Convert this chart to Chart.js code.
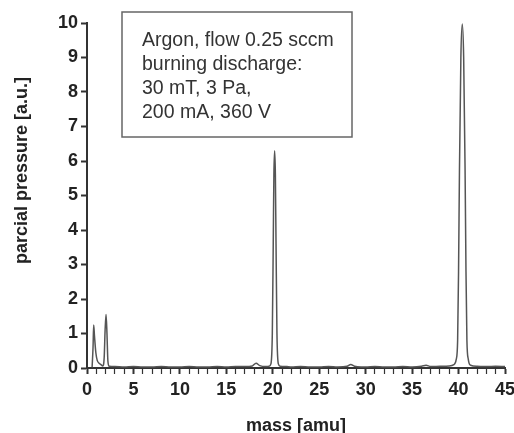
<!DOCTYPE html>
<html>
<head>
<meta charset="utf-8">
<script src="https://cdn.jsdelivr.net/npm/chart.js@4.4.0/dist/chart.umd.min.js"></script>
<style>
  html, body { margin: 0; padding: 0; background: #fff; }
  #wrap { width: 514px; height: 433px; }
</style>
</head>
<body>
<div id="wrap"><canvas id="mycanvas" width="514" height="433"></canvas></div>
<script>
// mass spectrum, argon discharge
var masses = [
  0.55, 0.65, 0.72, 0.8, 0.95, 1.1, 1.3, 1.5, 1.7, 1.85, 1.95, 2.05, 2.15, 2.25, 2.4,
  3, 4, 5, 6, 7, 8, 9, 10, 11, 12, 13, 14, 15, 16, 17,
  17.8, 18.2, 18.6, 19.2, 19.6, 19.8, 19.95, 20.05, 20.12, 20.2, 20.28, 20.35, 20.45, 20.6, 20.8,
  21.5, 22, 23, 24, 25, 26, 27, 28, 28.4, 28.8, 29.5, 30, 31, 32, 33, 34, 35, 36, 36.5, 37, 38, 39,
  39.5, 39.75, 39.9, 40.0, 40.1, 40.25, 40.4, 40.55, 40.7, 40.8, 40.9, 41.05, 41.3, 42, 43, 44, 45
];
var pressure = [
  0.02, 0.6, 1.25, 0.95, 0.45, 0.22, 0.14, 0.1, 0.06, 0.3, 1.1, 1.55, 1.0, 0.2, 0.05,
  0.04, 0.03, 0.04, 0.03, 0.03, 0.04, 0.03, 0.03, 0.04, 0.03, 0.03, 0.04, 0.03, 0.04, 0.04,
  0.06, 0.14, 0.07, 0.04, 0.05, 0.12, 1.0, 3.6, 5.6, 6.3, 5.6, 3.6, 1.0, 0.12, 0.05,
  0.04, 0.03, 0.04, 0.03, 0.03, 0.04, 0.03, 0.05, 0.1, 0.05, 0.03, 0.03, 0.04, 0.03, 0.03, 0.04, 0.03, 0.05, 0.08, 0.04, 0.05, 0.06,
  0.1, 0.25, 0.8, 2.8, 5.8, 9.0, 9.97, 9.0, 5.8, 2.8, 0.8, 0.25, 0.08, 0.05, 0.04, 0.05, 0.04
];
var xTicks = [0, 5, 10, 15, 20, 25, 30, 35, 40, 45];
var yTicks = [0, 1, 2, 3, 4, 5, 6, 7, 8, 9, 10];
var boxLines = ["Argon, flow 0.25 sccm", "burning discharge:", "30 mT, 3 Pa,", "200 mA, 360 V"];

var points = [];
for (var i = 0; i < masses.length; i++) {
  points.push({x: masses[i], y: pressure[i]});
}

var textBox = {
  id: 'textBox',
  afterDraw: function(chart) {
    var c = chart.ctx;
    c.save();
    c.strokeStyle = '#666';
    c.lineWidth = 1.5;
    c.strokeRect(122, 12, 230, 125);
    c.fillStyle = '#333';
    c.font = '19.5px "Liberation Sans", Arial, sans-serif';
    c.textBaseline = 'middle';
    for (var k = 0; k < boxLines.length; k++) {
      c.fillText(boxLines[k], 142, 41 + k * 24);
    }
    c.restore();
  }
};

var ctx = document.getElementById('mycanvas');
var chart = new Chart(ctx, {
  type: 'line',
  data: {
    datasets: [{
      label: 'partial pressure',
      data: points,
      borderColor: '#555',
      borderWidth: 1.5,
      pointRadius: 0,
      fill: false,
      cubicInterpolationMode: 'monotone'
    }]
  },
  options: {
    responsive: false,
    animation: false,
    layout: { padding: { top: 23, right: 9, left: 0, bottom: 0 } },
    plugins: { legend: { display: false }, tooltip: { enabled: false } },
    scales: {
      x: {
        type: 'linear',
        min: 0, max: 45,
        afterFit: function(s) { s.height = 65; s.paddingLeft = 0; s.paddingRight = 0; },
        border: { display: true, color: '#333', width: 2 },
        grid: {
          drawOnChartArea: false,
          tickLength: 6,
          tickColor: '#333',
          tickWidth: function(c) { return xTicks.indexOf(c.tick.value) >= 0 ? 2 : 1.2; }
        },
        ticks: {
          stepSize: 1,
          autoSkip: false,
          maxRotation: 0,
          padding: 5,
          color: '#222',
          font: { family: '"Liberation Sans", Arial, sans-serif', size: 18, weight: 'bold' },
          callback: function(v) { return xTicks.indexOf(v) >= 0 ? String(v) : ''; }
        },
        title: {
          display: true,
          text: 'mass [amu]',
          color: '#222',
          padding: { top: 0, bottom: -2 },
          font: { family: '"Liberation Sans", Arial, sans-serif', size: 18, weight: 'bold', lineHeight: 1 }
        }
      },
      y: {
        min: 0, max: 10,
        afterFit: function(s) { s.width = 87; },
        border: { display: true, color: '#333', width: 2 },
        grid: { drawOnChartArea: false, tickLength: 6, tickColor: '#333', tickWidth: 2 },
        ticks: {
          stepSize: 1,
          padding: 3,
          color: '#222',
          font: { family: '"Liberation Sans", Arial, sans-serif', size: 18, weight: 'bold' },
          callback: function(v) { return yTicks.indexOf(v) >= 0 ? String(v) : ''; }
        },
        title: {
          display: true,
          text: '          parcial pressure [a.u.]',
          color: '#222',
          padding: { top: 13, bottom: 0 },
          font: { family: '"Liberation Sans", Arial, sans-serif', size: 18, weight: 'bold', lineHeight: 1 }
        }
      }
    }
  },
  plugins: [textBox]
});
</script>
</body>
</html>
